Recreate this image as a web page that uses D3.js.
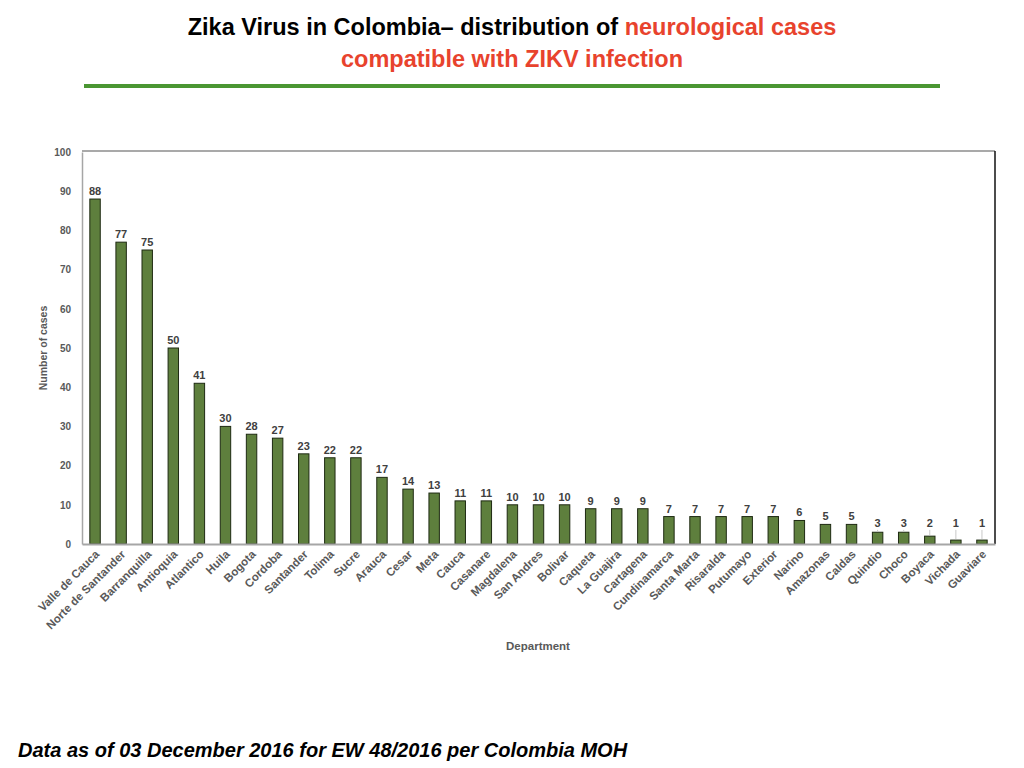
<!DOCTYPE html>
<html>
<head>
<meta charset="utf-8">
<script src="https://cdn.jsdelivr.net/npm/d3@7"></script>
<style>
  body { margin: 0; background: #fff; }
  svg { display: block; font-family: "Liberation Sans", Arial, sans-serif; }
</style>
</head>
<body>
<div id="chart"></div>
<script>
// Departments and neurological cases
const departments = [
  "Valle de Cauca", "Norte de Santander", "Barranquilla", "Antioquia", "Atlantico",
  "Huila", "Bogota", "Cordoba", "Santander", "Tolima", "Sucre", "Arauca", "Cesar",
  "Meta", "Cauca", "Casanare", "Magdalena", "San Andres", "Bolivar", "Caqueta",
  "La Guajira", "Cartagena", "Cundinamarca", "Santa Marta", "Risaralda", "Putumayo",
  "Exterior", "Narino", "Amazonas", "Caldas", "Quindio", "Choco", "Boyaca",
  "Vichada", "Guaviare"
];
const cases = [
  88, 77, 75, 50, 41, 30, 28, 27, 23, 22, 22, 17, 14, 13, 11, 11, 10, 10, 10, 9,
  9, 9, 7, 7, 7, 7, 7, 6, 5, 5, 3, 3, 2, 1, 1
];
const yTicks = [0, 10, 20, 30, 40, 50, 60, 70, 80, 90, 100];

const data = departments.map((d, i) => ({ dept: d, value: cases[i] }));

const width = 1024;
const height = 768;
const plot = { left: 82, right: 995, top: 152, bottom: 544 };

const svg = d3.select("#chart")
  .append("svg")
  .attr("width", width)
  .attr("height", height);

// Title
const title = svg.append("text")
  .attr("text-anchor", "middle")
  .style("font-size", "23.5px")
  .style("font-weight", "bold");
title.append("tspan")
  .attr("x", 512).attr("y", 35)
  .attr("fill", "#000")
  .text("Zika Virus in Colombia\u2013  distribution of ");
title.append("tspan")
  .attr("fill", "#e8432d")
  .text("neurological cases");
svg.append("text")
  .attr("x", 512).attr("y", 67)
  .attr("text-anchor", "middle")
  .attr("fill", "#e8432d")
  .style("font-size", "23.5px")
  .style("font-weight", "bold")
  .text("compatible with ZIKV infection");

svg.append("line")
  .attr("x1", 84).attr("x2", 940)
  .attr("y1", 86).attr("y2", 86)
  .attr("stroke", "#4a9632")
  .attr("stroke-width", 4);

// Scales
const x = d3.scaleBand()
  .domain(departments)
  .range([plot.left, plot.right])
  .paddingInner(0.6)
  .paddingOuter(0.3);

const y = d3.scaleLinear()
  .domain([0, 100])
  .range([plot.bottom, plot.top]);

// Frame
svg.append("line")
  .attr("x1", plot.left).attr("x2", plot.right)
  .attr("y1", plot.top - 1).attr("y2", plot.top - 1)
  .attr("stroke", "#8c8c8c").attr("stroke-width", 1.5);
svg.append("line")
  .attr("x1", plot.right).attr("x2", plot.right)
  .attr("y1", plot.top - 1).attr("y2", plot.bottom)
  .attr("stroke", "#111").attr("stroke-width", 1.5);

// Y axis
const yAxis = svg.append("g")
  .attr("transform", `translate(${plot.left},0)`)
  .call(d3.axisLeft(y).tickValues(yTicks).tickSize(0).tickPadding(11));
yAxis.select(".domain").attr("stroke", "#a6a6a6").attr("stroke-width", 1.5);
yAxis.selectAll("text")
  .attr("fill", "#595959")
  .style("font-size", "10px")
  .style("font-weight", "bold")
  .style("font-family", "'Liberation Sans', Arial, sans-serif");

// Bars
svg.selectAll("rect.bar")
  .data(data)
  .join("rect")
    .attr("class", "bar")
    .attr("x", d => x(d.dept))
    .attr("y", d => y(d.value))
    .attr("width", x.bandwidth())
    .attr("height", d => y(0) - y(d.value))
    .attr("fill", "#5e7f3d")
    .attr("stroke", "#1e2a12")
    .attr("stroke-width", 1);

// X axis
const xAxis = svg.append("g")
  .attr("transform", `translate(0,${plot.bottom})`)
  .call(d3.axisBottom(x).tickSize(0).tickPadding(0));
xAxis.select(".domain").attr("stroke", "#a6a6a6").attr("stroke-width", 2);
xAxis.selectAll("text")
  .attr("fill", "#595959")
  .attr("text-anchor", "end")
  .attr("dy", 0)
  .attr("transform", "translate(5,11) rotate(-45)")
  .style("font-size", "11.5px")
  .style("font-weight", "bold")
  .style("font-family", "'Liberation Sans', Arial, sans-serif");

// Leader lines for small bars
svg.selectAll("line.leader")
  .data(data.filter(d => d.value <= 3))
  .join("line")
    .attr("class", "leader")
    .attr("x1", d => x(d.dept) + x.bandwidth() / 2)
    .attr("x2", d => x(d.dept) + x.bandwidth() / 2)
    .attr("y1", d => y(d.value) - 1)
    .attr("y2", d => y(3.6))
    .attr("stroke", "#c8c8c8")
    .attr("stroke-width", 1);

// Value labels
svg.selectAll("text.value")
  .data(data)
  .join("text")
    .attr("class", "value")
    .attr("x", d => x(d.dept) + x.bandwidth() / 2)
    .attr("y", d => d.value <= 3 ? y(3.6) - 3 : y(d.value) - 4)
    .attr("text-anchor", "middle")
    .attr("fill", "#404040")
    .style("font-size", "11px")
    .style("font-weight", "bold")
    .text(d => d.value);

// Axis titles
svg.append("text")
  .attr("transform", `translate(47,${(plot.top + plot.bottom) / 2}) rotate(-90)`)
  .attr("text-anchor", "middle")
  .attr("fill", "#595959")
  .style("font-size", "10.5px")
  .style("font-weight", "bold")
  .text("Number of cases");

svg.append("text")
  .attr("x", 538).attr("y", 650)
  .attr("text-anchor", "middle")
  .attr("fill", "#595959")
  .style("font-size", "11.5px")
  .style("font-weight", "bold")
  .text("Department");

// Footer
svg.append("text")
  .attr("x", 18).attr("y", 757)
  .attr("fill", "#000")
  .style("font-size", "20px")
  .style("font-weight", "bold")
  .style("font-style", "italic")
  .text("Data as of 03 December 2016 for EW 48/2016 per Colombia MOH");
</script>
</body>
</html>
